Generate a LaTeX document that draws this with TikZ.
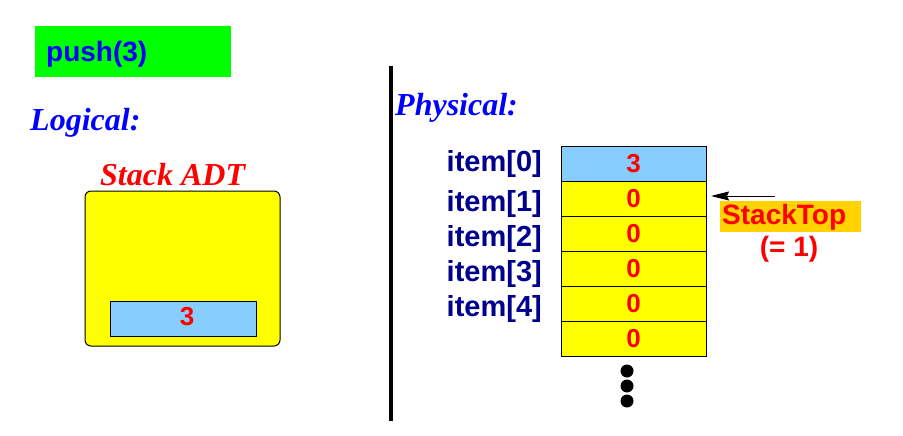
\documentclass[tikz,border=0pt]{standalone}
\usepackage{fontspec}
\setmainfont{Liberation Serif}
\setsansfont{Liberation Sans}
\usetikzlibrary{arrows.meta}
\definecolor{pgreen}{RGB}{0,255,0}
\definecolor{pblue}{RGB}{0,0,255}
\definecolor{pnavy}{RGB}{0,0,140}
\definecolor{pyellow}{RGB}{255,255,0}
\definecolor{plblue}{RGB}{135,206,255}
\definecolor{pred}{RGB}{255,0,0}
\definecolor{pgold}{RGB}{255,210,0}
\tikzset{
  sansbig/.style={font=\sffamily\bfseries\fontsize{28}{32}\selectfont, inner sep=0pt},
  serifbig/.style={font=\rmfamily\bfseries\itshape\fontsize{32}{36}\selectfont, inner sep=0pt},
  cell/.style={draw=black, line width=1pt, minimum width=145pt, minimum height=35pt, inner sep=0pt, outer sep=0pt, text=pred, font=\sffamily\bfseries\fontsize{26}{30}\selectfont},
  ylcell/.style={cell, fill=pyellow},
  blcell/.style={cell, fill=plblue},
  itemlab/.style={font=\sffamily\bfseries\fontsize{29}{33}\selectfont, inner sep=0pt, text=pnavy, anchor=base east},
  dot/.style={circle, fill=black, inner sep=0pt, minimum size=13pt},
}
\begin{document}
\begin{tikzpicture}[x=1pt,y=-1pt]
\useasboundingbox (0,0) rectangle (903,436);
% push(3)
\node[fill=pgreen, minimum width=196pt, minimum height=51pt, inner sep=0pt, anchor=north west] (pushbox) at (35,26) {};
\node[sansbig, text=pblue, anchor=base west] (pushtxt) at (46,62) {push(3)};
% Logical
\node[serifbig, text=pblue, anchor=base west] (logical) at (30,131) {Logical:};
\node[serifbig, text=pred, anchor=base west] (adtlab) at (100,185) {Stack ADT};
\draw[fill=pyellow, line width=1pt, rounded corners=6pt] (85,191) rectangle (280,346);
\node[draw=black, line width=1pt, fill=plblue, minimum width=146pt, minimum height=35pt, inner sep=0pt, anchor=north west] (adtcell) at (110,301) {};
\node[font=\sffamily\bfseries\fontsize{26}{30}\selectfont, inner sep=0pt, text=pred] (adtval) at (187,317) {3};
% divider
\draw[line width=4pt] (390.5,66) -- (390.5,421);
% Physical
\node[serifbig, text=pblue, anchor=base west] (physical) at (395,115) {Physical:};
\node[itemlab] (i0) at (542,171) {item[0]};
\node[itemlab] (i1) at (542,211) {item[1]};
\node[itemlab] (i2) at (542,246) {item[2]};
\node[itemlab] (i3) at (542,281) {item[3]};
\node[itemlab] (i4) at (542,316) {item[4]};
% cells
\node[blcell] (c0) at (633.5,163.5) {3};
\node[ylcell] (c1) at (633.5,198.5) {0};
\node[ylcell] (c2) at (633.5,233.5) {0};
\node[ylcell] (c3) at (633.5,268.5) {0};
\node[ylcell] (c4) at (633.5,303.5) {0};
\node[ylcell] (c5) at (633.5,338.5) {0};
% dots
\node[dot] (d1) at (627,371) {};
\node[dot] (d2) at (627,386) {};
\node[dot] (d3) at (627,401) {};
% StackTop
\node[fill=pgold, minimum width=141pt, minimum height=31pt, inner sep=0pt, anchor=north west] (stbox) at (720,201) {};
\node[sansbig, text=pred, anchor=base west] (sttxt) at (722,224) {StackTop};
\node[sansbig, text=pred, anchor=base] (steq) at (789,256) {(= 1)};
\coordinate (arrs) at (775,196);
\coordinate (arre) at (711,196);
\draw[line width=1pt, -{Stealth[length=18pt,width=9pt,inset=2pt]}] (arrs) -- (arre);
\end{tikzpicture}
\end{document}
